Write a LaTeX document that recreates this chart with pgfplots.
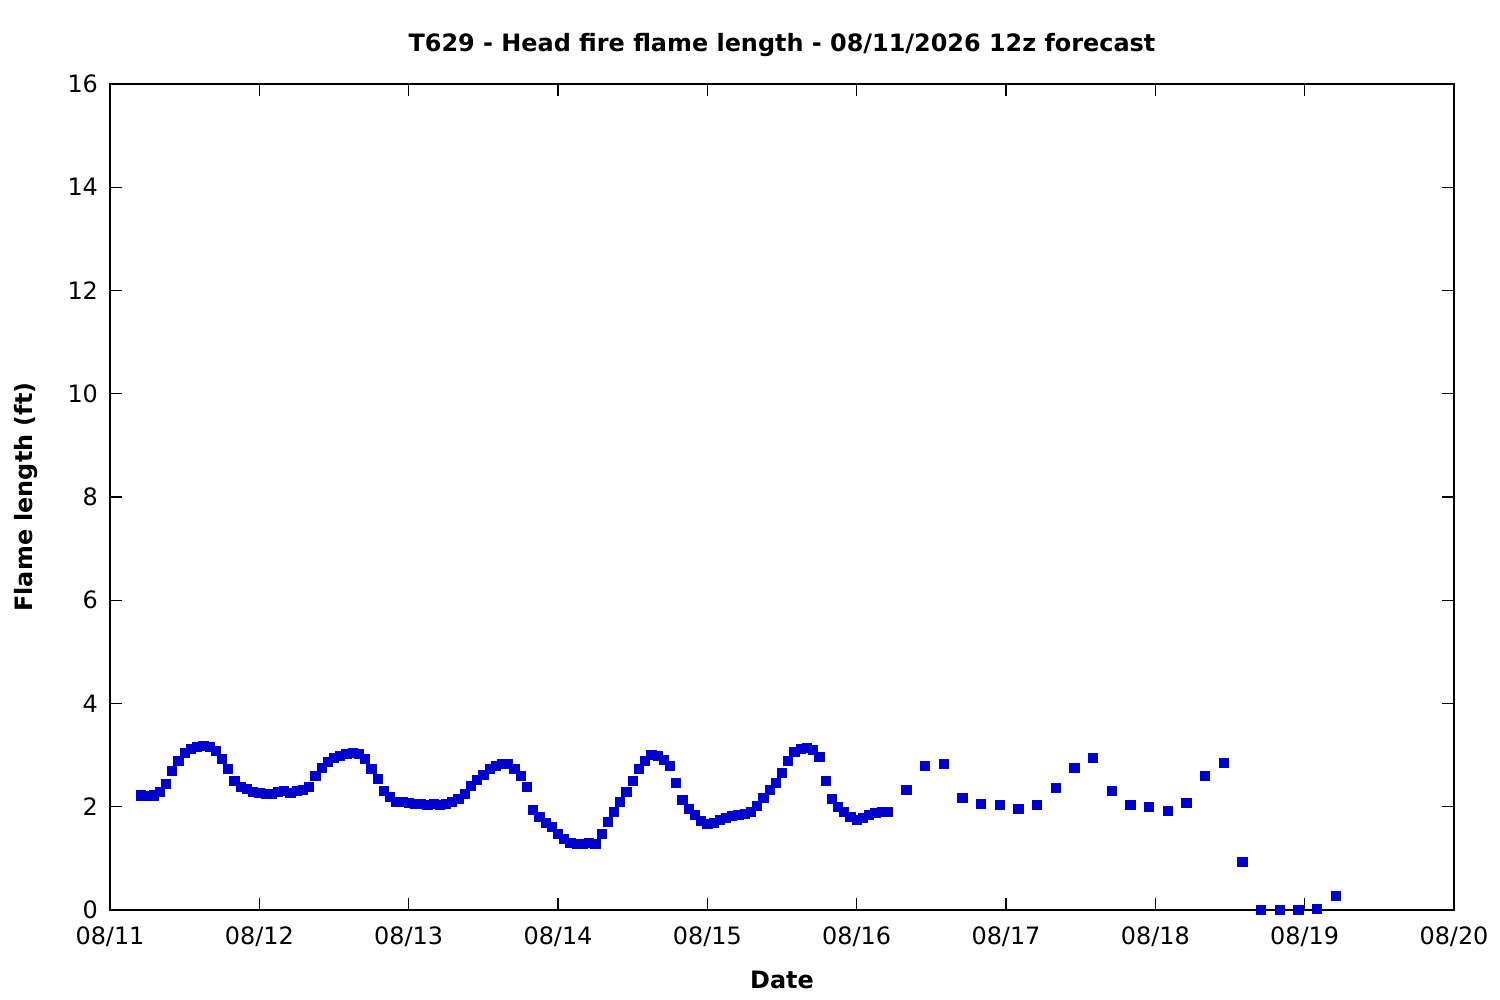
\documentclass[border=0pt]{standalone}
\usepackage{fontspec}
\setmainfont{DejaVu Sans}
\usepackage{pgfplots}
\pgfplotsset{compat=1.18}
\definecolor{ptblue}{RGB}{0,0,204}
\begin{document}
\begin{tikzpicture}
\useasboundingbox (-55bp,-45bp) rectangle (695bp,455bp);
\begin{axis}[
  at={(0,0)}, anchor=south west,
  scale only axis, width=672bp, height=413bp,
  xmin=0, xmax=216, ymin=0, ymax=16,
  xtick={0,24,...,216},
  xticklabels={08/11,08/12,08/13,08/14,08/15,08/16,08/17,08/18,08/19,08/20},
  ytick={0,2,...,16},
  tick align=inside, major tick length=6bp,
  tick style={black, line width=0.6bp},
  axis line style={line width=0.6bp},
  ticklabel style={font=\fontsize{12}{14}\selectfont},
  /pgf/number format/assume math mode=true,
  xticklabel style={yshift=-5bp},
  yticklabel style={xshift=-2.5bp},
  title={\bfseries T629 - Head fire flame length - 08/11/2026 12z forecast},
  title style={font=\fontsize{12}{14}\selectfont, yshift=4bp},
  xlabel={\bfseries Date},
  ylabel={\bfseries Flame length (ft)},
  label style={font=\fontsize{12}{14}\selectfont},
  xlabel style={yshift=-5bp},
  ylabel style={yshift=8bp},
  clip=false,
]
\addplot[only marks, mark=square*, mark size=2.3bp, color=ptblue] table {
x y
5 2.22
6 2.21
7 2.22
8 2.28
9 2.44
10 2.69
11 2.89
12 3.04
13 3.12
14 3.16
15 3.18
16 3.16
17 3.08
18 2.92
19 2.73
20 2.50
21 2.38
22 2.34
23 2.29
24 2.27
25 2.25
26 2.25
27 2.29
28 2.31
29 2.27
30 2.31
31 2.32
32 2.38
33 2.60
34 2.75
35 2.87
36 2.94
37 2.98
38 3.02
39 3.04
40 3.02
41 2.92
42 2.73
43 2.54
44 2.31
45 2.19
46 2.09
47 2.09
48 2.07
49 2.05
50 2.05
51 2.03
52 2.05
53 2.03
54 2.05
55 2.09
56 2.15
57 2.25
58 2.40
59 2.52
60 2.62
61 2.73
62 2.79
63 2.83
64 2.83
65 2.73
66 2.60
67 2.38
68 1.94
69 1.80
70 1.69
71 1.61
72 1.47
73 1.38
74 1.30
75 1.28
76 1.28
77 1.30
78 1.28
79 1.47
80 1.70
81 1.90
82 2.09
83 2.29
84 2.50
85 2.73
86 2.89
87 3.00
88 2.98
89 2.91
90 2.79
91 2.46
92 2.13
93 1.96
94 1.84
95 1.72
96 1.67
97 1.69
98 1.74
99 1.78
100 1.82
101 1.84
102 1.86
103 1.90
104 2.01
105 2.17
106 2.32
107 2.46
108 2.65
109 2.89
110 3.06
111 3.12
112 3.14
113 3.10
114 2.96
115 2.50
116 2.15
117 2.00
118 1.90
119 1.80
120 1.74
121 1.78
122 1.84
123 1.88
124 1.90
125 1.90
128 2.32
131 2.79
134 2.83
137 2.17
140 2.05
143 2.03
146 1.96
149 2.03
152 2.36
155 2.75
158 2.94
161 2.31
164 2.03
167 2.00
170 1.92
173 2.07
176 2.60
179 2.85
182 0.93
185 0
188 0
191 0
194 0.02
197 0.27
};
\end{axis}
\end{tikzpicture}
\end{document}
